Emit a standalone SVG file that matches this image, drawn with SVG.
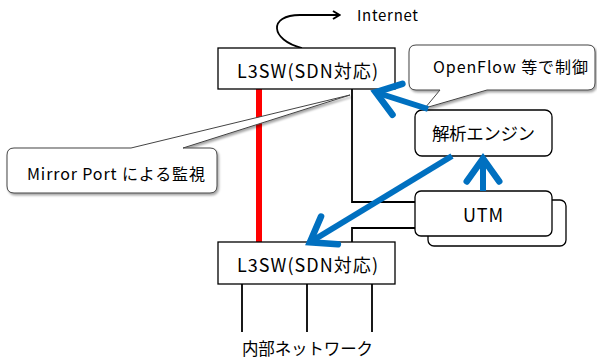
<svg xmlns="http://www.w3.org/2000/svg" width="597" height="360" viewBox="0 0 597 360">
<defs>
<style>
text{font-family:"Noto Sans CJK JP","Liberation Sans",sans-serif;fill:#000;font-weight:400}
.box{fill:#fff;stroke:#000;stroke-width:1.3}
.rbox{fill:#fff;stroke:#000;stroke-width:1.3}
.line{fill:none;stroke:#000;stroke-width:1.8}
.blue{fill:none;stroke:#0070C0;stroke-width:6;stroke-linecap:butt}
.call{fill:#fff;stroke:#444;stroke-width:1}
</style>
<marker id="bh" markerWidth="7" markerHeight="7" refX="4.2" refY="3" orient="auto" markerUnits="strokeWidth" viewBox="-0.5 -0.5 7 7">
<path d="M0.8,0.3 L4.6,3 L0.8,5.7" fill="none" stroke="#0070C0" stroke-width="1.1" stroke-linejoin="miter" stroke-linecap="round"/>
</marker>
<marker id="kh" markerWidth="10" markerHeight="10" refX="8" refY="5" orient="auto" markerUnits="userSpaceOnUse" viewBox="0 0 10 10">
<path d="M2,1 L8.5,5 L2,9" fill="none" stroke="#000" stroke-width="2"/>
</marker>
<filter id="sh" x="-10%" y="-10%" width="130%" height="140%">
<feDropShadow dx="1.5" dy="2" stdDeviation="1.2" flood-color="#000" flood-opacity="0.35"/>
</filter>
</defs>
<g id="connectors">
<path class="line" d="M302,48 C270,40 268,15 300,15 L339,15" marker-end="url(#kh)"/>
<line x1="259" y1="89" x2="259" y2="242" stroke="#FF0000" stroke-width="6"/>
<path class="line" d="M352,89 L352,202 L415,202"/>
<path class="line" d="M428,228 L352,228 L352,242"/>
<line x1="242" y1="284" x2="242" y2="332" stroke="#000" stroke-width="1.8"/>
<line x1="307" y1="284" x2="307" y2="332" stroke="#000" stroke-width="1.8"/>
<line x1="372" y1="284" x2="372" y2="332" stroke="#000" stroke-width="1.8"/>
</g>
<g id="internet"><text x="357" y="21" font-size="15" textLength="61">Internet</text></g>
<g id="l3sw-top">
<rect class="box" x="218" y="48" width="177" height="41"/>
<text x="237" y="77.5" font-size="18" textLength="141">L3SW(SDN対応)</text>
</g>
<g id="utm">
<rect class="rbox" x="428" y="200" width="138" height="46" rx="6"/>
<rect class="rbox" x="415" y="191" width="137" height="45" rx="6"/>
<text x="463" y="221.5" font-size="18" textLength="40">UTM</text>
</g>
<g id="l3sw-bottom">
<rect class="box" x="218" y="242" width="177" height="42"/>
<text x="237" y="271.5" font-size="18" textLength="141">L3SW(SDN対応)</text>
</g>
<g id="engine">
<rect class="rbox" x="415" y="110" width="137" height="46" rx="7"/>
<text x="432" y="140" font-size="17.5" textLength="103">解析エンジン</text>
</g>
<g id="callout-openflow">
<path class="call" filter="url(#sh)" d="M416,45 L588,45 Q595,45 595,52 L595,83 Q595,90 588,90 L487,90 L425,108 L440,90 L416,90 Q409,90 409,83 L409,52 Q409,45 416,45 Z"/>
<text x="433" y="73" font-size="16" textLength="155">OpenFlow 等で制御</text>
</g>
<g id="callout-mirror">
<path class="call" filter="url(#sh)" d="M14,148 L131,148 L350,95 L183,148 L210,148 Q217,148 217,155 L217,186 Q217,193 210,193 L14,193 Q7,193 7,186 L7,155 Q7,148 14,148 Z"/>
<text x="27" y="180" font-size="16" textLength="178">Mirror Port による監視</text>
</g>
<g id="blue-arrows">
<line class="blue" x1="428" y1="109" x2="378" y2="93" marker-end="url(#bh)"/>
<line class="blue" x1="452" y1="156" x2="312" y2="241" marker-end="url(#bh)"/>
<line class="blue" x1="483" y1="191" x2="483" y2="161" marker-end="url(#bh)"/>
</g>
<g id="internal"><text x="242" y="355" font-size="16.5" textLength="131">内部ネットワーク</text></g>
</svg>
